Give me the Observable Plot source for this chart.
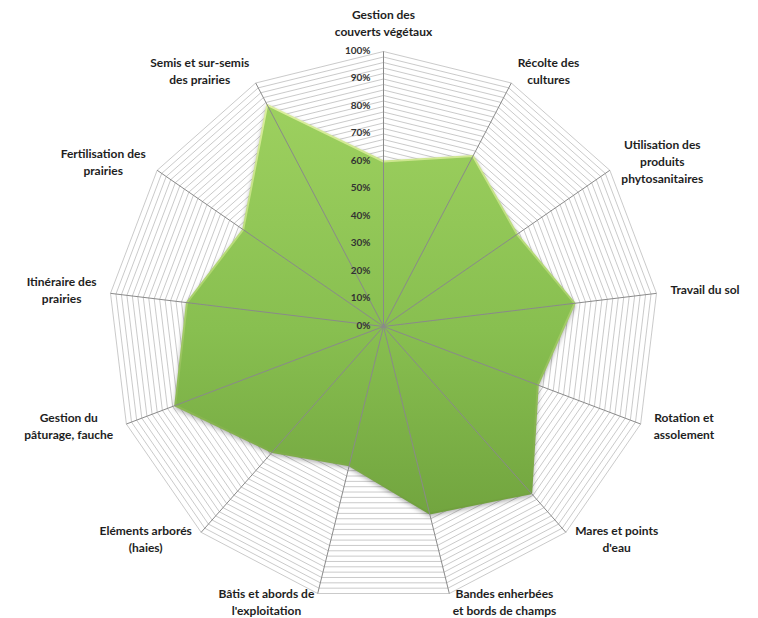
<!DOCTYPE html>
<html>
<head>
<meta charset="utf-8">
<script src="https://cdn.jsdelivr.net/npm/d3@7"></script>
<script src="https://cdn.jsdelivr.net/npm/@observablehq/plot@0.6"></script>
<style>
  html, body { margin: 0; padding: 0; background: #ffffff; }
  #chart { width: 758px; height: 618px; }
  g[fill="url(#fillGrad)"] { filter: drop-shadow(0px 2px 2px rgba(0,0,0,0.30)); }
</style>
</head>
<body>
<div id="chart"></div>
<script>
// ---- data ----
const categories = [
  "Gestion des\ncouverts végétaux",
  "Récolte des\ncultures",
  "Utilisation des\nproduits\nphytosanitaires",
  "Travail du sol",
  "Rotation et\nassolement",
  "Mares et points\nd'eau",
  "Bandes enherbées\net bords de champs",
  "Bâtis et abords de\nl'exploitation",
  "Eléments arborés\n(haies)",
  "Gestion du\npâturage, fauche",
  "Itinéraire des\nprairies",
  "Fertilisation des\nprairies",
  "Semis et sur-semis\ndes prairies"
];
const scores = [0.60, 0.70, 0.59, 0.70, 0.60, 0.81, 0.70, 0.52, 0.61, 0.81, 0.72, 0.62, 0.91];
const tickValues = [0, 0.1, 0.2, 0.3, 0.4, 0.5, 0.6, 0.7, 0.8, 0.9, 1.0];
const tickLabels = ["0%", "10%", "20%", "30%", "40%", "50%", "60%", "70%", "80%", "90%", "100%"];
const gridStep = 0.02;

// ---- layout ----
const W = 758, H = 618, CX = 383, CY = 326, R = 275;
const n = categories.length;
const angle = i => 2 * Math.PI * i / n;
const px = (i, r) => r * Math.sin(angle(i));
const py = (i, r) => r * Math.cos(angle(i));

const levels = d3.range(1, Math.round(1 / gridStep) + 1).map(k => +(k * gridStep).toFixed(4));
const ringPts = levels.flatMap(lv => d3.range(n + 1).map(i => ({lv, x: px(i % n, lv), y: py(i % n, lv)})));
const shape = scores.map((v, i) => ({x: px(i, v), y: py(i, v)}));
const spokes = categories.map((c, i) => ({x: px(i, 1), y: py(i, 1)}));

const ctx = document.createElement("canvas").getContext("2d");
ctx.font = "bold 12px Lato";
const LH = 17;
const labels = categories.map((c, i) => {
  const lines = c.split("\n");
  const w = d3.max(lines, l => ctx.measureText(l).width);
  const h = lines.length * LH;
  const s = Math.sin(angle(i)), co = Math.cos(angle(i));
  const ex = CX + R * s, ey = CY - R * co;
  const sg = Math.abs(s) < 0.01 ? 0 : Math.sign(s);
  const lx = ex + sg * (w / 2 + 14 * Math.abs(s));
  const ly = sg === 0 ? ey - h / 2 - 12 : ey - co * 11 - 3;
  return {text: c, x: (lx - CX) / R, y: (CY - ly) / R};
});

const defs = () => {
  const g = d3.create("svg:g");
  const d = g.append("defs");
  const lg = d.append("linearGradient").attr("id", "fillGrad")
    .attr("x1", 0).attr("y1", 0).attr("x2", 0).attr("y2", 1);
  lg.append("stop").attr("offset", "0%").attr("stop-color", "#9dd05f");
  lg.append("stop").attr("offset", "55%").attr("stop-color", "#88bf50");
  lg.append("stop").attr("offset", "100%").attr("stop-color", "#72a53f");
  const eg = d.append("linearGradient").attr("id", "edgeGrad")
    .attr("x1", 0).attr("y1", 0).attr("x2", 0).attr("y2", 1);
  eg.append("stop").attr("offset", "0%").attr("stop-color", "#dcee9e");
  eg.append("stop").attr("offset", "40%").attr("stop-color", "#b2d873");
  eg.append("stop").attr("offset", "100%").attr("stop-color", "#6f9f3d");
  return g.node();
};

const chart = Plot.plot({
  width: W,
  height: H,
  margin: 0,
  style: {fontFamily: "Lato, 'Open Sans', sans-serif", background: "#ffffff"},
  x: {domain: [-CX / R, (W - CX) / R], axis: null},
  y: {domain: [-(H - CY) / R, CY / R], axis: null},
  marks: [
    defs,
    Plot.line(ringPts, {x: "x", y: "y", z: "lv", stroke: "#bcbcbc", strokeWidth: 0.8}),
    Plot.line(shape, {x: "x", y: "y", curve: "linear-closed", fill: "url(#fillGrad)", stroke: "url(#edgeGrad)", strokeWidth: 2}),
    Plot.link(spokes, {x1: 0, y1: 0, x2: "x", y2: "y", stroke: "#8a8a8a", strokeWidth: 1}),
    Plot.text(tickValues, {x: 0, y: d => d, text: (d, i) => tickLabels[i], textAnchor: "end", dx: -13, dy: -1, fontSize: 10, fontWeight: "bold", fill: "#333333"}),
    Plot.text(labels, {x: "x", y: "y", text: "text", textAnchor: "middle", lineAnchor: "middle", lineHeight: LH / 12, fontSize: 12, fontWeight: "bold", fill: "#1e1e1e"})
  ]
});
document.getElementById("chart").appendChild(chart);
</script>
</body>
</html>
